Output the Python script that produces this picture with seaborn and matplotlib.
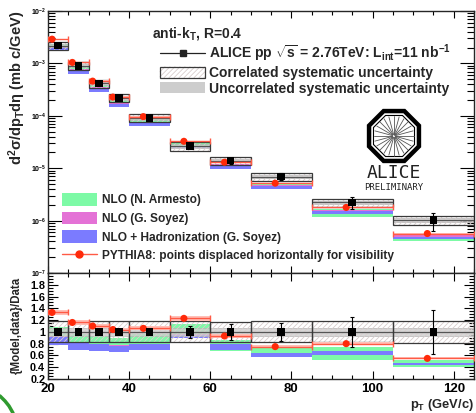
import numpy as np
import pandas as pd
import matplotlib
matplotlib.use("Agg")
import matplotlib.pyplot as plt
import seaborn as sns
from matplotlib.patches import Patch, RegularPolygon, Rectangle
from matplotlib.lines import Line2D
from matplotlib.collections import LineCollection
from matplotlib.legend_handler import HandlerBase
from matplotlib.ticker import MultipleLocator, LogLocator, NullFormatter, FuncFormatter

# pT bins (GeV/c)
bin_lo = [20, 25, 30, 35, 40, 50, 60, 70, 85, 105]
bin_hi = [25, 30, 35, 40, 50, 60, 70, 85, 105, 125]
# ALICE jet cross section (mb c/GeV) and relative uncertainties
xsec = [2.18e-3, 9.0e-4, 4.17e-4, 2.19e-4, 9.1e-5, 2.65e-5, 1.40e-5, 6.9e-6, 2.23e-6, 1.03e-6]
stat_rel = [0.03, 0.03, 0.03, 0.04, 0.04, 0.10, 0.14, 0.155, 0.25, 0.38]
corr_sys_rel = [0.18, 0.18, 0.18, 0.18, 0.18, 0.18, 0.17, 0.18, 0.18, 0.19]
uncorr_sys_rel = [0.07, 0.07, 0.07, 0.07, 0.07, 0.07, 0.07, 0.07, 0.07, 0.07]
# model / data bands
armesto_lo = [0.93, 0.83, 0.80, 0.77, 0.80, 0.96, 0.68, 0.61, 0.53, 0.40]
armesto_hi = [1.08, 0.97, 0.93, 0.90, 0.96, 1.14, 0.86, 0.73, 0.74, 0.52]
soyez_lo = [0.89, 0.79, 0.76, 0.73, 0.77, 0.92, 0.77, 0.62, 0.64, 0.45]
soyez_hi = [0.97, 0.87, 0.84, 0.81, 0.85, 1.00, 0.85, 0.70, 0.72, 0.53]
had_lo = [0.78, 0.69, 0.68, 0.66, 0.70, 0.90, 0.70, 0.58, 0.61, 0.44]
had_hi = [0.92, 0.82, 0.79, 0.76, 0.80, 0.95, 0.80, 0.65, 0.67, 0.48]
pythia_ratio = [1.33, 1.16, 1.10, 1.04, 1.06, 1.23, 0.93, 0.75, 0.80, 0.55]
pythia_shift = 1.5

c_green = "#7dfaa6"
c_pink = "#e472d6"
c_blue = "#7b7bff"
c_red = "#ff2a0a"
c_redline = "#ff5a45"
c_redband = "#ffc0b8"
c_gray = "#cdcdcd"
c_hatch = "#d9cdcd"
c_box = "#3a3a3a"

sns.set_style("ticks")
plt.rcParams["font.family"] = ["Liberation Sans", "DejaVu Sans"]
plt.rcParams["font.weight"] = "bold"
plt.rcParams["mathtext.fontset"] = "custom"
plt.rcParams["mathtext.rm"] = "Liberation Sans:bold"
plt.rcParams["mathtext.it"] = "Liberation Sans:bold:italic"
plt.rcParams["mathtext.bf"] = "Liberation Sans:bold"

df = pd.DataFrame({"lo": bin_lo, "hi": bin_hi, "xsec": xsec, "stat": stat_rel,
                   "corr": corr_sys_rel, "uncorr": uncorr_sys_rel,
                   "arm_lo": armesto_lo, "arm_hi": armesto_hi,
                   "soy_lo": soyez_lo, "soy_hi": soyez_hi,
                   "had_lo": had_lo, "had_hi": had_hi, "pyt": pythia_ratio})
df["pt"] = (df["lo"] + df["hi"]) / 2
df["width"] = df["hi"] - df["lo"]
df["pt_pyt"] = df["pt"] - pythia_shift
df["one"] = 1.0

W, H = 477, 413
fig = plt.figure(figsize=(W / 100, H / 100), dpi=100)
ax = fig.add_axes([48 / W, 1 - 273 / H, 426 / W, 262 / H])
axr = fig.add_axes([48 / W, 1 - 379 / H, 426 / W, 106 / H], sharex=ax)


def hatch_box(a, x0, y0, w, h, step_px=5):
    # light "///" texture clipped to one box
    rect = Rectangle((x0, y0), w, h, facecolor="none", edgecolor="none")
    a.add_patch(rect)
    bb = a.get_position()
    wp, hp = bb.width * W, bb.height * H
    segs = [[(u / wp, 0), ((u + hp) / wp, 1)] for u in np.arange(-hp, wp, step_px)]
    lc = LineCollection(segs, transform=a.transAxes, colors=c_hatch, linewidths=0.6, zorder=3)
    a.add_collection(lc, autolim=False)
    lc.set_clip_path(rect)


class HatchHandler(HandlerBase):
    def create_artists(self, legend, orig_handle, xdescent, ydescent, width, height, fontsize, trans):
        x0, y0 = -xdescent, -ydescent
        arts = [Rectangle((x0, y0), width, height, transform=trans, facecolor="white",
                          edgecolor="none")]
        for u in np.arange(-height, width, 3.6):
            xa, ya = max(u, 0), max(-u, 0)
            xb = min(u + height, width)
            yb = xb - u
            arts.append(Line2D([x0 + xa, x0 + xb], [y0 + ya, y0 + yb], transform=trans,
                               color=c_hatch, lw=0.6))
        arts.append(Rectangle((x0, y0), width, height, transform=trans, facecolor="none",
                              edgecolor=c_box, lw=0.9))
        return arts


def draw_panel(a, scale, order):
    # scale: data value per bin (xsec for upper, 1 for ratio)
    s = np.asarray(scale)
    bands = {"arm": c_green, "soy": c_pink, "had": c_blue}
    for k, name in enumerate(order):
        lo = df[name + "_lo"].values * s
        hi = df[name + "_hi"].values * s
        a.bar(df["lo"], hi - lo, bottom=lo, width=df["width"], align="edge",
              color=bands[name], lw=0, zorder=2 + k * 0.1)
    # uncorrelated systematic: gray box
    ulo = s * (1 - df["uncorr"].values)
    uhi = s * (1 + df["uncorr"].values)
    a.bar(df["lo"], uhi - ulo, bottom=ulo, width=df["width"], align="edge",
          color=c_gray, alpha=0.8, edgecolor="#b5b5b5", lw=0.6, zorder=2.8)
    # correlated systematic: hatched open box
    clo = s * (1 - df["corr"].values)
    chi = s * (1 + df["corr"].values)
    for i in range(len(df)):
        hatch_box(a, df["lo"][i], clo[i], df["width"][i], chi[i] - clo[i])
    a.hlines(s, df["lo"], df["hi"], color="#555555", lw=0.9, zorder=3.3)
    a.bar(df["lo"], chi - clo, bottom=clo, width=df["width"], align="edge",
          facecolor="none", edgecolor=c_box, lw=0.9, zorder=3.4)
    # PYTHIA8
    py = s * df["pyt"].values
    a.bar(df["lo"], py * 0.06, bottom=py * 0.97, width=df["width"], align="edge",
          color=c_redband, lw=0, zorder=3.5)
    a.errorbar(df["pt_pyt"], py, xerr=[df["pt_pyt"] - df["lo"], df["hi"] - df["pt_pyt"]],
               fmt="none", ecolor=c_redline, elinewidth=1.0, capsize=2, capthick=1.0, zorder=3.6)
    sns.scatterplot(x=df["pt_pyt"], y=py, marker="o", color=c_red, s=26,
                    edgecolor="none", ax=a, zorder=4, legend=False)
    # data
    a.errorbar(df["pt"], s, yerr=s * df["stat"].values, fmt="none", ecolor="black",
               elinewidth=0.8, capsize=1.5, capthick=0.8, zorder=4.5)
    sns.scatterplot(x=df["pt"], y=s, marker="s", color="black", s=30,
                    edgecolor="none", ax=a, zorder=5, legend=False)


# axis limits first so the hatch geometry is fixed
ax.set_yscale("log")
ax.set_ylim(1e-7, 1e-2)
ax.set_xlim(20, 125)
axr.set_ylim(0.2, 2.0)

draw_panel(ax, df["xsec"].values, ["arm", "soy", "had"])
draw_panel(axr, df["one"].values, ["soy", "arm", "had"])
ax.set_ylim(1e-7, 1e-2)
ax.set_xlim(20, 125)
axr.set_ylim(0.2, 2.0)

# axes styling (ROOT-like)
for a in (ax, axr):
    a.set_xlabel("")
    a.set_ylabel("")
    a.xaxis.set_major_locator(MultipleLocator(20))
    a.xaxis.set_minor_locator(MultipleLocator(5))
    a.tick_params(which="both", direction="in", top=True, right=True, width=0.8, colors="black")
    for sp in a.spines.values():
        sp.set_linewidth(1.0)
ax.tick_params(axis="x", which="major", length=5, labelbottom=False)
ax.tick_params(axis="x", which="minor", length=3)
ax.tick_params(axis="y", which="major", length=10, labelsize=5, pad=1)
ax.tick_params(axis="y", which="minor", length=5)
ax.yaxis.set_major_locator(LogLocator(base=10, numticks=10))
ax.yaxis.set_minor_locator(LogLocator(base=10, subs=np.arange(2, 10), numticks=20))
ax.yaxis.set_minor_formatter(NullFormatter())
ax.yaxis.set_major_formatter(FuncFormatter(lambda v, p: r"10$^{%d}$" % round(np.log10(v))))

axr.set_yticks(np.arange(0.2, 1.81, 0.2))
axr.yaxis.set_major_formatter(FuncFormatter(lambda v, p: "%g" % round(v, 1)))
axr.yaxis.set_minor_locator(MultipleLocator(0.05))
axr.tick_params(axis="y", which="major", length=7, labelsize=7.8, pad=2)
axr.tick_params(axis="y", which="minor", length=3.5)
axr.tick_params(axis="x", which="major", length=6, labelsize=9.5, pad=2.9)
axr.tick_params(axis="x", which="minor", length=3)
for t in axr.get_xticklabels() + axr.get_yticklabels() + ax.get_yticklabels():
    t.set_fontweight("bold")

# axis titles
fig.text(17 / W, 1 - 88 / H, r"d$^{2}$σ/dp$_{\rm T}$dη (mb c/GeV)", rotation=90,
         ha="center", va="center", fontsize=10.5, fontweight="bold")
fig.text(17 / W, 1 - 325 / H, "{Model,data}/Data", rotation=90,
         ha="center", va="center", fontsize=8.3, fontweight="bold")
fig.text(474 / W, 1 - 413.5 / H, r"p$_{\rm T}$ (GeV/c)", ha="right", va="bottom",
         fontsize=9.3, fontweight="bold")

# legends
fs_top = 10
fig.text(152 / W, 1 - 33 / H, r"anti-k$_{\rm T}$, R=0.4", ha="left", va="center",
         fontsize=fs_top, fontweight="bold")
h_data = Line2D([], [], color="#222222", lw=0.9, marker="s", markersize=4.5)
h_corr = Patch(facecolor="white", edgecolor=c_box)
h_unc = Patch(facecolor=c_gray, edgecolor="none")
leg1 = ax.legend([h_data, h_corr, h_unc],
                 [r"ALICE pp $\sqrt{\rm s}$ = 2.76TeV: L$_{\rm int}$=11 nb$^{-1}$",
                  "Correlated systematic uncertainty",
                  "Uncorrelated systematic uncertainty"],
                 handler_map={h_corr: HatchHandler()},
                 loc="upper left", bbox_to_anchor=(160 / W, 1 - 43 / H),
                 bbox_transform=fig.transFigure, frameon=False, fontsize=fs_top,
                 handlelength=3.25, handleheight=0.85, handletextpad=0.25,
                 labelspacing=0.12, borderpad=0, borderaxespad=0)
ax.add_artist(leg1)
fs = 8.6
h_arm = Patch(facecolor=c_green, edgecolor="none")
h_soy = Patch(facecolor=c_pink, edgecolor="none")
h_had = Patch(facecolor=c_blue, edgecolor="none")
h_pyt = Line2D([], [], color=c_redline, lw=1, marker="o", markersize=5,
               markerfacecolor=c_red, markeredgecolor=c_red)
ax.legend([h_arm, h_soy, h_had, h_pyt],
          ["NLO (N. Armesto)", "NLO (G. Soyez)", "NLO + Hadronization (G. Soyez)",
           "PYTHIA8: points displaced horizontally for visibility"],
          loc="upper left", bbox_to_anchor=(62 / W, 1 - 193 / H),
          bbox_transform=fig.transFigure, frameon=False, fontsize=fs,
          handlelength=2.9, handleheight=1.25, handletextpad=0.45,
          labelspacing=0.45, borderpad=0, borderaxespad=0)

# ALICE Preliminary logo
lax = fig.add_axes([(394 - 30) / W, 1 - (136 + 30) / H, 60 / W, 60 / H])
lax.set_xlim(-1, 1)
lax.set_ylim(-1, 1)
lax.axis("off")
lax.add_patch(RegularPolygon((0, 0), 8, radius=0.9, orientation=np.pi / 8,
                             fill=False, lw=3.2, ec="black"))
lax.add_patch(RegularPolygon((0, 0), 8, radius=0.74, orientation=np.pi / 8,
                             fill=False, lw=0.8, ec="black"))
ang = np.linspace(0, 2 * np.pi, 24, endpoint=False)
for t in ang:
    lax.plot([0.05 * np.cos(t), 0.66 * np.cos(t)], [0.05 * np.sin(t), 0.66 * np.sin(t)],
             color="#555555", lw=0.6)
fig.text(394 / W, 1 - 173 / H, "ALICE", ha="center", va="center", fontsize=13,
         family="DejaVu Sans Mono", fontweight="normal", color="#222222")
fig.text(394 / W, 1 - 187 / H, "PRELIMINARY", ha="center", va="center", fontsize=6.5,
         family="DejaVu Sans Mono", fontweight="normal", color="#222222")

# green arc fragment at the lower-left corner
fig.add_artist(Line2D([0 / W, 5 / W, 9 / W, 13 / W], [1 - 396 / H, 1 - 401 / H, 1 - 406 / H, 1 - 413 / H],
                      transform=fig.transFigure, color="#2f9a2f", lw=2.5))

fig.savefig("out.png", dpi=100)
